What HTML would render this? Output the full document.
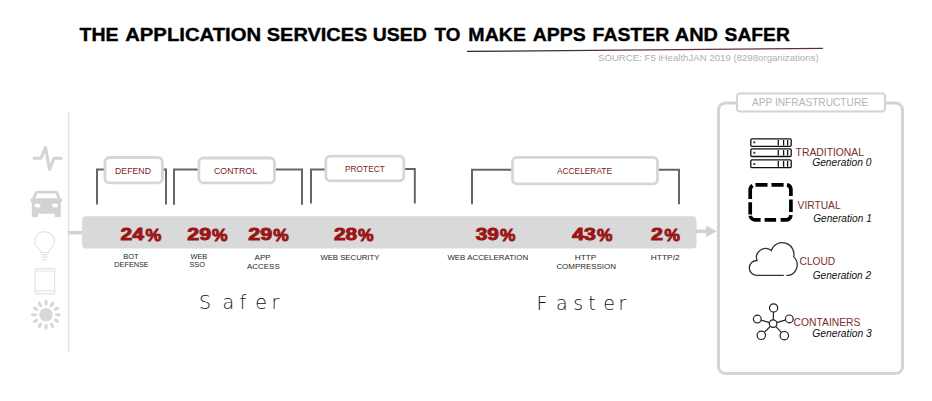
<!DOCTYPE html>
<html><head><meta charset="utf-8"><title>Application Services</title>
<style>
html,body{margin:0;padding:0;background:#fff;}
body{width:932px;height:401px;overflow:hidden;position:relative;}
svg{position:absolute;left:0;top:0;display:block;}
text{font-family:"Liberation Sans",Arial,sans-serif;}
.t{font-weight:bold;fill:#000;stroke:#000;stroke-width:0.35px;}
.pct{font-weight:bold;fill:#981616;stroke:#981616;stroke-width:0.9px;}
.sub{fill:#262626;font-size:8.1px;}
.lbl{fill:#7e1c1c;font-size:9.8px;}
.gen{font-style:italic;fill:#111;font-size:10px;}
.inf{fill:#7a2e2e;font-size:10.5px;}
.hand{font-family:"DejaVu Sans",sans-serif;font-weight:200;fill:#111;}
</style></head>
<body>
<svg width="932" height="401" viewBox="0 0 932 401">
  <!-- Title -->
  <g class="t" font-size="17.6">
    <text id="tw0" x="79.60" y="41" textLength="38.99" lengthAdjust="spacingAndGlyphs">THE</text>
    <text id="tw1" x="125.20" y="41" textLength="136.01" lengthAdjust="spacingAndGlyphs">APPLICATION</text>
    <text id="tw2" x="266.79" y="41" textLength="100.60" lengthAdjust="spacingAndGlyphs">SERVICES</text>
    <text id="tw3" x="372.78" y="41" textLength="54.04" lengthAdjust="spacingAndGlyphs">USED</text>
    <text id="tw4" x="434.60" y="41" textLength="25.80" lengthAdjust="spacingAndGlyphs">TO</text>
    <text id="tw5" x="468.39" y="41" textLength="57.62" lengthAdjust="spacingAndGlyphs">MAKE</text>
    <text id="tw6" x="532.78" y="41" textLength="53.03" lengthAdjust="spacingAndGlyphs">APPS</text>
    <text id="tw7" x="592.60" y="41" textLength="76.59" lengthAdjust="spacingAndGlyphs">FASTER</text>
    <text id="tw8" x="674.80" y="41" textLength="43.20" lengthAdjust="spacingAndGlyphs">AND</text>
    <text id="tw9" x="724.60" y="41" textLength="65.20" lengthAdjust="spacingAndGlyphs">SAFER</text>
  </g>
  <defs>
    <linearGradient id="sw" x1="467" y1="0" x2="823" y2="0" gradientUnits="userSpaceOnUse">
      <stop offset="0" stop-color="#2a2222"/>
      <stop offset="0.5" stop-color="#5a3838"/>
      <stop offset="1" stop-color="#5e3030"/>
    </linearGradient>
  </defs>
  <path d="M467 51.4 Q640 49.2 823 48.3" stroke="url(#sw)" stroke-width="1.3" fill="none"/>
  <text id="e1" x="598.00" y="61" font-size="9.2" fill="#b0b0b0" textLength="220.61" lengthAdjust="spacingAndGlyphs">SOURCE: F5 iHealthJAN 2019 (8298organizations)</text>

  <!-- left vertical line -->
  <rect x="67.8" y="112" width="1.4" height="240" fill="#e2e2e2"/>

  <!-- bar -->
  <rect x="68" y="231" width="16" height="3.4" fill="#d2d2d2"/>
  <rect x="82" y="216.2" width="614.5" height="32.4" rx="4" fill="#d9d9d9"/>
  <rect x="695" y="229.5" width="12" height="3.6" fill="#d2d2d2"/>
  <path d="M706 225.6 L717 231.3 L706 237 Z" fill="#d2d2d2"/>

  <!-- brackets -->
  <g stroke="#666" stroke-width="2" fill="none">
    <path d="M97 204.6 V169.6 H105"/>
    <path d="M162 169.6 H166 V204.6"/>
    <path d="M174 204.7 V169.6 H199"/>
    <path d="M274 169.6 H302 V204.7"/>
    <path d="M311 203.4 V169.6 H326"/>
    <path d="M404 169 H414.8 V203.4"/>
    <path d="M472 204.2 V169.7 H513"/>
    <path d="M657 169.7 H679 V204.2"/>
  </g>
  <!-- label boxes -->
  <g fill="#fff" stroke="#d6d6d6" stroke-width="2.8">
    <rect x="105" y="157.5" width="57.4" height="25.3" rx="4.5"/>
    <rect x="198.9" y="158" width="75.6" height="24.9" rx="4.5"/>
    <rect x="325.8" y="156.2" width="78" height="24.6" rx="4.5"/>
    <rect x="512.5" y="157.3" width="145" height="26.5" rx="4.5"/>
  </g>
  <text id="e2" class="lbl" x="114.95" y="173.7" textLength="36.09" lengthAdjust="spacingAndGlyphs">DEFEND</text>
  <text id="e3" class="lbl" x="213.94" y="174.1" textLength="43.12" lengthAdjust="spacingAndGlyphs">CONTROL</text>
  <text id="e4" class="lbl" x="345.06" y="171.8" textLength="39.77" lengthAdjust="spacingAndGlyphs">PROTECT</text>
  <text id="e5" class="lbl" x="556.99" y="174.1" textLength="55.03" lengthAdjust="spacingAndGlyphs">ACCELERATE</text>

  <!-- percentages -->
  <g class="pct" font-size="16.6">
    <text id="e6" x="120.63" y="240.3" textLength="23.37" lengthAdjust="spacingAndGlyphs">24</text><text id="e7" x="145.55" y="240.8" textLength="15.79" lengthAdjust="spacingAndGlyphs">%</text>
    <text id="e8" x="187.37" y="240.3" textLength="23.88" lengthAdjust="spacingAndGlyphs">29</text><text id="e9" x="212.12" y="240.8" textLength="15.57" lengthAdjust="spacingAndGlyphs">%</text>
    <text id="e10" x="248.25" y="240.3" textLength="24.09" lengthAdjust="spacingAndGlyphs">29</text><text id="e11" x="273.31" y="240.8" textLength="15.44" lengthAdjust="spacingAndGlyphs">%</text>
    <text id="e12" x="334.00" y="240.3" textLength="23.26" lengthAdjust="spacingAndGlyphs">28</text><text id="e13" x="358.12" y="240.6" textLength="15.57" lengthAdjust="spacingAndGlyphs">%</text>
    <text id="e14" x="475.68" y="240.3" textLength="23.32" lengthAdjust="spacingAndGlyphs">39</text><text id="e15" x="500.00" y="240.8" textLength="15.44" lengthAdjust="spacingAndGlyphs">%</text>
    <text id="e16" x="572.17" y="240.3" textLength="23.83" lengthAdjust="spacingAndGlyphs">43</text><text id="e17" x="597.00" y="240.6" textLength="15.44" lengthAdjust="spacingAndGlyphs">%</text>
    <text id="e18" x="651.00" y="240.3" textLength="12.00" lengthAdjust="spacingAndGlyphs">2</text><text id="e19" x="664.56" y="240.6" textLength="15.44" lengthAdjust="spacingAndGlyphs">%</text>
  </g>
  <!-- sub labels -->
  <g class="sub">
    <text id="e20" x="123.28" y="258.9" textLength="15.44" lengthAdjust="spacingAndGlyphs">BOT</text>
    <text id="e21" x="114.36" y="267.1" textLength="34.37" lengthAdjust="spacingAndGlyphs">DEFENSE</text>
    <text id="e22" x="190.46" y="259.0" textLength="16.77" lengthAdjust="spacingAndGlyphs">WEB</text>
    <text id="e23" x="189.38" y="267.2" textLength="15.54" lengthAdjust="spacingAndGlyphs">SSO</text>
    <text id="e24" x="254.55" y="260.4" textLength="16.15" lengthAdjust="spacingAndGlyphs">APP</text>
    <text id="e25" x="247.08" y="268.7" textLength="32.64" lengthAdjust="spacingAndGlyphs">ACCESS</text>
    <text id="e26" x="320.39" y="260.2" textLength="59.02" lengthAdjust="spacingAndGlyphs">WEB SECURITY</text>
    <text id="e27" x="447.39" y="260.4" textLength="80.72" lengthAdjust="spacingAndGlyphs">WEB ACCELERATION</text>
    <text id="e28" x="574.73" y="260.3" textLength="21.61" lengthAdjust="spacingAndGlyphs">HTTP</text>
    <text id="e29" x="556.38" y="269.2" textLength="59.55" lengthAdjust="spacingAndGlyphs">COMPRESSION</text>
    <text id="e30" x="650.74" y="260.3" textLength="28.91" lengthAdjust="spacingAndGlyphs">HTTP/2</text>
  </g>
  <!-- handwriting -->
  <text id="e31" class="hand" x="199 222.6 239.6 255.3 271.6" y="309" font-size="19">Safer</text>
  <text id="e32" class="hand" x="536.6 556 573.2 588.3 603.2 618.6" y="310" font-size="19">Faster</text>

  <!-- left icons -->
  <path d="M32.8 158.2 H41 L45.5 147.5 L49.5 169.5 L54 158.2 H62.5" stroke="#d3d3d3" stroke-width="3" fill="none" stroke-linejoin="round"/>
  <g fill="#d3d3d3">
    <path d="M38 190.7 H56 Q57.5 190.7 58.3 192.5 L60.6 198.5 H62 V202 H60.8 V213.7 H31.8 V202 H30.6 V198.5 H32 L34.6 192.5 Q35.5 190.7 38 190.7 Z"/>
    <rect x="32" y="212" width="6" height="5.3" rx="1"/>
    <rect x="54.8" y="212" width="6" height="5.3" rx="1"/>
  </g>
  <path d="M37.2 193.5 H55.5 L57.5 198.3 H35.2 Z" fill="#fff"/>
  <ellipse cx="37.5" cy="205.6" rx="3" ry="2" fill="#fff"/>
  <ellipse cx="55" cy="205.6" rx="3" ry="2" fill="#fff"/>
  <g stroke="#e4e4e4" stroke-width="1.2" fill="none">
    <path d="M41 252.5 C40.5 249.5 34.8 247 34.8 241.5 A9.8 9.8 0 1 1 54.4 241.5 C54.4 247 48.8 249.5 48.3 252.5 Z"/>
    <path d="M41 254.6 H48.3 M41 257.2 H48.3 M42 259.8 H47.3"/>
    <rect x="35.1" y="268.7" width="19.6" height="25.2" rx="1"/>
    <path d="M35.1 271 H54.7 M35.1 290.8 H54.7"/>
  </g>
  <g fill="#d8d8d8">
    <circle cx="46" cy="314.8" r="6.8"/>
<ellipse cx="46" cy="302.8" rx="1.7" ry="3" transform="rotate(0 46 314.8)"/>
    <ellipse cx="46" cy="302.8" rx="1.7" ry="3" transform="rotate(30 46 314.8)"/>
    <ellipse cx="46" cy="302.8" rx="1.7" ry="3" transform="rotate(60 46 314.8)"/>
    <ellipse cx="46" cy="302.8" rx="1.7" ry="3" transform="rotate(90 46 314.8)"/>
    <ellipse cx="46" cy="302.8" rx="1.7" ry="3" transform="rotate(120 46 314.8)"/>
    <ellipse cx="46" cy="302.8" rx="1.7" ry="3" transform="rotate(150 46 314.8)"/>
    <ellipse cx="46" cy="302.8" rx="1.7" ry="3" transform="rotate(180 46 314.8)"/>
    <ellipse cx="46" cy="302.8" rx="1.7" ry="3" transform="rotate(210 46 314.8)"/>
    <ellipse cx="46" cy="302.8" rx="1.7" ry="3" transform="rotate(240 46 314.8)"/>
    <ellipse cx="46" cy="302.8" rx="1.7" ry="3" transform="rotate(270 46 314.8)"/>
    <ellipse cx="46" cy="302.8" rx="1.7" ry="3" transform="rotate(300 46 314.8)"/>
    <ellipse cx="46" cy="302.8" rx="1.7" ry="3" transform="rotate(330 46 314.8)"/>
  </g>

  <!-- right panel -->
  <rect x="718.5" y="103" width="184" height="270.5" rx="7" fill="#fff" stroke="#d4d4d4" stroke-width="3"/>
  <rect x="737" y="93.5" width="148" height="18" rx="3" fill="#fff" stroke="#d4d4d4" stroke-width="2"/>
  <text id="e33" x="752.00" y="106" font-size="10.3" fill="#b4b4b4" textLength="116.00" lengthAdjust="spacingAndGlyphs">APP INFRASTRUCTURE</text>

  <!-- server icon -->
  <g stroke="#111" stroke-width="1.3" fill="none">
    <rect x="750.8" y="138.9" width="40.4" height="7.4" rx="1.2"/>
    <rect x="750.8" y="148.9" width="40.4" height="7.6" rx="1.2"/>
    <rect x="750.8" y="159.9" width="40.4" height="7.8" rx="1.2"/>
    <path d="M778.3 140 V145.4 M783.6 140 V145.4 M787.6 140 V145.4 M778.3 150 V155.5 M783.6 150 V155.5 M787.6 150 V155.5 M778.3 161 V166.7 M783.6 161 V166.7 M787.6 161 V166.7"/>
  </g>
  <g fill="#444"><rect x="753.3" y="141.3" width="2" height="2"/><rect x="753.3" y="151.8" width="2" height="2"/><rect x="753.3" y="163" width="2" height="2"/></g>
  <text id="e34" class="inf" x="795.60" y="155.8" textLength="68.42" lengthAdjust="spacingAndGlyphs">TRADITIONAL</text>
  <text id="e35" class="gen" x="812.18" y="165.8" textLength="59.34" lengthAdjust="spacingAndGlyphs">Generation 0</text>

  <!-- virtual -->
  <path d="M752.6 185.5 A5 5 0 0 0 750.2 189.8 V198.9 M755.5 184.8 H767.5 M771.5 184.8 H783.6 M787 184.9 A5 5 0 0 1 790.9 189.8 V196 M790.9 199.5 V212.1 M790.9 215.2 A5 5 0 0 1 785.9 219.9 H780.6 M776.1 219.9 H764.6 M760.6 219.9 H755.2 A5 5 0 0 1 750.26 215.7 M750.2 214.4 V202.3" fill="none" stroke="#000" stroke-width="3.7"/>
  <text id="e36" class="inf" x="797.58" y="208.8" textLength="43.03" lengthAdjust="spacingAndGlyphs">VIRTUAL</text>
  <text id="e37" class="gen" x="813.18" y="221.6" textLength="58.64" lengthAdjust="spacingAndGlyphs">Generation 1</text>

  <!-- cloud -->
  <path d="M783.8 275.4 H756.5 A7.4 7.4 0 0 1 757 260.5 A9 9 0 0 1 771.2 250.6 A11.7 11.7 0 0 1 793.7 256.9 A10.9 10.9 0 0 1 789 275.4 H786.4" stroke="#333" stroke-width="1.3" fill="none"/>
  <text id="e38" class="inf" x="799.56" y="264.6" textLength="35.67" lengthAdjust="spacingAndGlyphs">CLOUD</text>
  <text id="e39" class="gen" x="812.79" y="278.6" textLength="58.21" lengthAdjust="spacingAndGlyphs">Generation 2</text>

  <!-- containers -->
  <g stroke="#222" stroke-width="1.2" fill="#fff">
    <path d="M773.1 323.6 L773.6 307.9 M773.1 323.6 L757.3 319.1 M773.1 323.6 L789.3 318.9 M773.1 323.6 L761.3 335.3 M773.1 323.6 L784.3 335.7" fill="none"/>
    <circle cx="773.1" cy="323.6" r="3.8"/>
    <circle cx="773.6" cy="307.9" r="4.1"/>
    <circle cx="757.3" cy="319.1" r="3.9"/>
    <circle cx="789.3" cy="318.9" r="3.9"/>
    <circle cx="761.3" cy="335.3" r="4.2"/>
    <circle cx="784.3" cy="335.7" r="4.2"/>
  </g>
  <text id="e40" class="inf" x="793.58" y="325.5" textLength="66.82" lengthAdjust="spacingAndGlyphs">CONTAINERS</text>
  <text id="e41" class="gen" x="812.19" y="336.7" textLength="59.61" lengthAdjust="spacingAndGlyphs">Generation 3</text>
</svg>
</body></html>
